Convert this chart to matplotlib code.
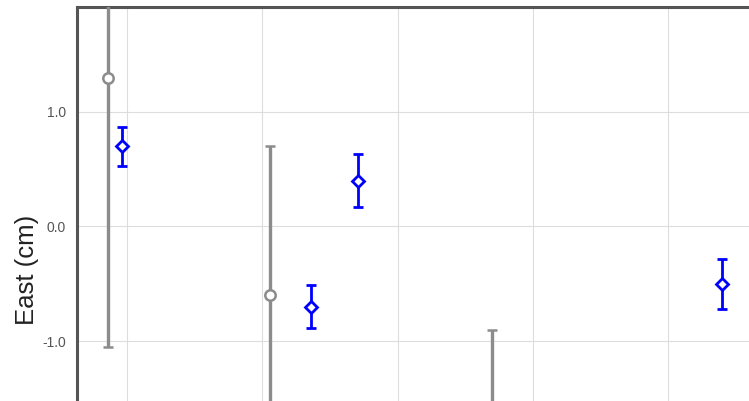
import matplotlib.pyplot as plt

# ---------------- DATA ----------------
# x in grid units (vertical gridlines at 0, 1, 2, 3, 4)
gray_x = [-0.14, 1.06, 2.70]
gray_y = [1.30, -0.60, -2.00]
gray_err = [2.35, 1.30, 1.10]

blue_x = [-0.04, 1.36, 1.71, 4.40]
blue_y = [0.70, -0.70, 0.40, -0.50]
blue_err = [0.17, 0.19, 0.23, 0.22]

grid_x = [0, 1, 2, 3, 4]
y_ticks = [-1.0, 0.0, 1.0]
y_labels = ["-1.0", "0.0", "1.0"]

# ---------------- FIGURE ----------------
W, H = 749, 401
fig = plt.figure(figsize=(W / 100, H / 100), dpi=100)
plt.rcParams['font.family'] = ['Liberation Sans', 'DejaVu Sans']

left, top = 77, 7
ax = fig.add_axes([left / W, 0, 1 - left / W, 1 - top / H])

ax.set_xlim(-0.3695, 4.597)
ax.set_ylim(-1.524, 1.917)

for gx in grid_x:
    ax.axvline(gx, color='#dddddd', lw=0.8, zorder=0)
for gy in y_ticks:
    ax.axhline(gy, color='#dddddd', lw=0.8, zorder=0)

ax.errorbar(gray_x, gray_y, yerr=gray_err, fmt='o', color='#8c8c8c',
            ecolor='#8c8c8c', elinewidth=2.4, capsize=3.6, capthick=2.4,
            markersize=7.5, markerfacecolor='white', markeredgewidth=1.8,
            zorder=3)
ax.errorbar(blue_x, blue_y, yerr=blue_err, fmt='D', color='#0000ff',
            ecolor='#0000ff', elinewidth=2.0, capsize=3.6, capthick=2.0,
            markersize=6.5, markerfacecolor='white', markeredgewidth=2.0,
            zorder=4)

ax.set_xticks([])
ax.set_yticks(y_ticks)
ax.set_yticklabels(y_labels)
ax.tick_params(axis='y', length=0, pad=8, labelsize=10, labelcolor='#555555')

for side in ['right', 'bottom']:
    ax.spines[side].set_visible(False)
for side in ['left', 'top']:
    ax.spines[side].set_color('#555555')
    ax.spines[side].set_linewidth(2.2)

fig.text(27 / W, 1 - 270 / H, "East (cm)", rotation=90, ha='center',
         va='center', fontsize=18.5, color='#222222')

fig.savefig("out.png", dpi=100)
